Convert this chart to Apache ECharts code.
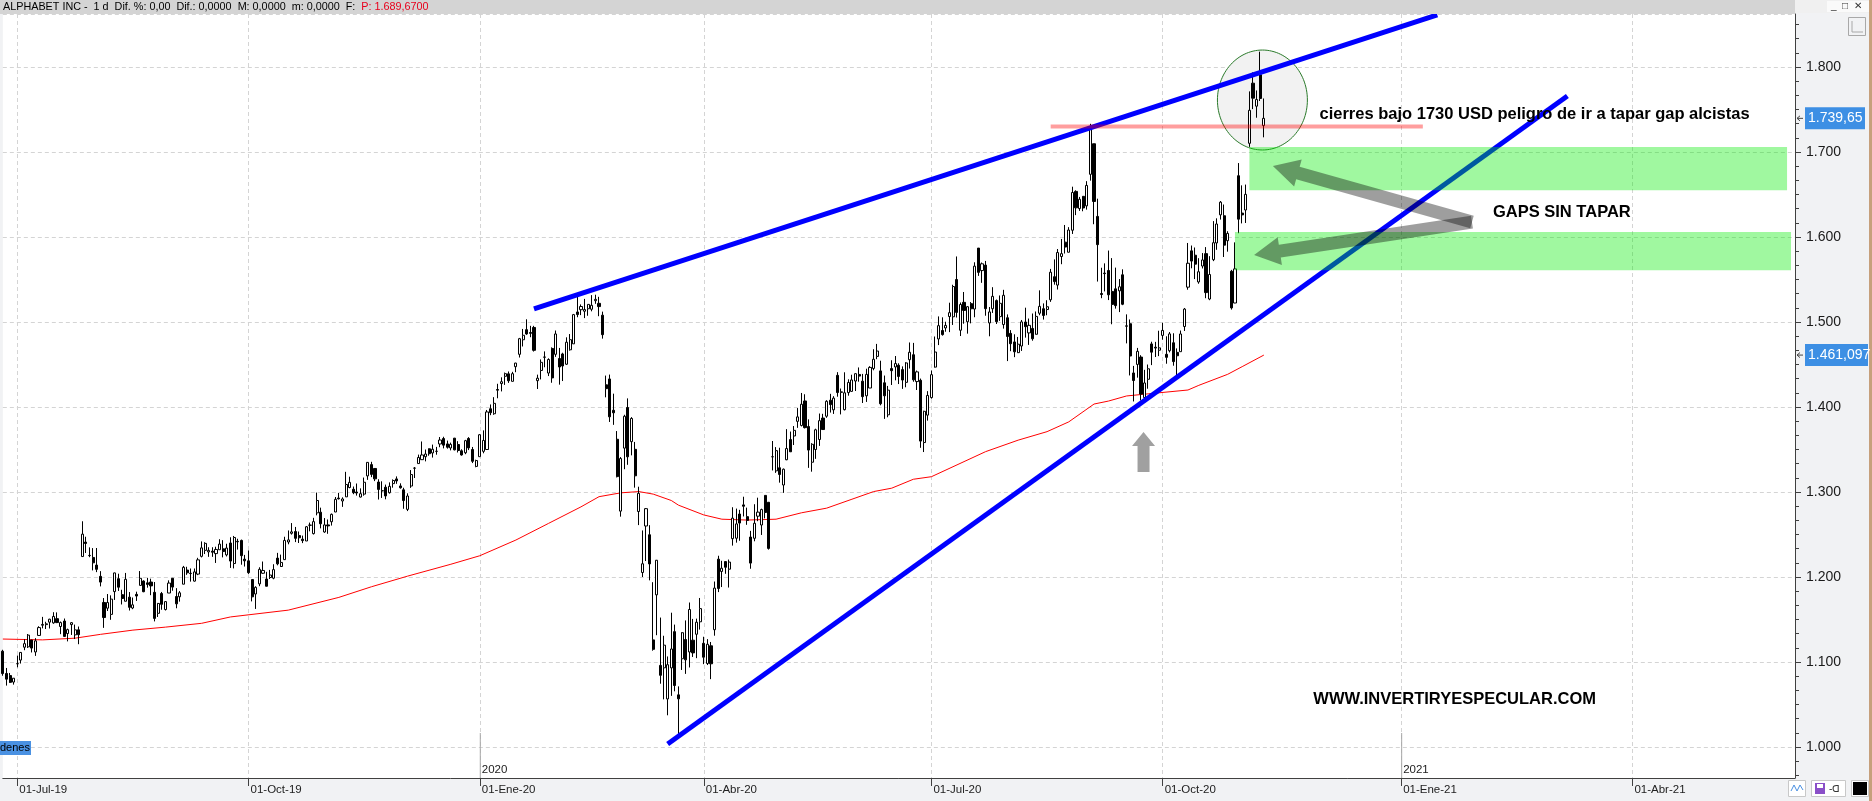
<!DOCTYPE html>
<html><head><meta charset="utf-8">
<script src="https://cdn.jsdelivr.net/npm/echarts@6/dist/echarts.min.js"></script>
<style>html,body{margin:0;padding:0;background:#f1f2f4;}#c{width:1872px;height:801px;}</style>
</head><body><div id="c"></div>
<script>
// ---------- DATA ----------
const firstDay = [2019, 5, 25];
const lastTradingDay = '2020-11-10';
const totalSlots = 497;
const holidays = ['2019-07-04','2019-09-02','2019-11-28','2019-12-25','2020-01-01','2020-01-20','2020-02-17','2020-04-10','2020-05-25','2020-07-03','2020-09-07'];
const monthNames = ['Ene','Feb','Mar','Abr','May','Jun','Jul','Ago','Sep','Oct','Nov','Dic'];

// Daily candles [open, high, low, close]
const ohlc = [
// Jun 2019
[1112.66,1114.35,1083.8,1086.35],[1086.5,1092.97,1072.24,1079.8],[1084,1087.1,1075.29,1076.01],[1076.39,1081,1073.37,1080.91],
// Jul 2019
[1098,1107.58,1093.7,1097.95],[1102.24,1111.77,1098.17,1111.25],[1117.41,1126.76,1113.86,1121.58],[1117.8,1132.88,1116.5,1131.59],
[1125.87,1125.98,1111.21,1116.35],[1111.8,1128.03,1107.17,1124.83],[1131.22,1142.05,1130.97,1140.48],[1143.25,1153.07,1139.58,1144.21],
[1143.99,1147.34,1138.78,1144.9],[1146.86,1150.82,1139.4,1150.34],[1146,1158.58,1145,1153.58],[1150.97,1158.36,1145.77,1146.35],
[1141.74,1147.6,1132.73,1146.33],[1148.19,1151.14,1129.62,1130.1],[1133.45,1139.25,1124.24,1138.07],[1144,1146.9,1131.8,1146.21],
[1131.9,1144,1126.99,1137.81],[1137.82,1141.7,1120.92,1132.12],[1224.04,1265.55,1224,1250.41],[1241.05,1247.37,1228.23,1239.41],
[1225.41,1234.87,1223.3,1225.14],[1223,1234,1207.76,1216.68],
// Aug 2019
[1214.03,1234.11,1205.72,1209.01],[1200.74,1206.9,1188.94,1193.99],[1170.04,1175.24,1140.14,1152.32],[1163.31,1179.96,1160,1169.95],
[1156,1178.44,1149.62,1173.99],[1182.83,1205.01,1173.02,1204.8],[1197.99,1203.88,1183.6,1188.01],[1179.21,1184.96,1167.67,1174.71],
[1171.46,1204.78,1171.46,1197.27],[1176.31,1182.3,1160.54,1164.29],[1163.5,1175.84,1162.11,1167.26],[1179.55,1182.72,1171.81,1177.6],
[1190.09,1206.99,1190.09,1198.45],[1195.25,1196.06,1182.11,1182.69],[1193.15,1199,1187.43,1191.25],[1194.07,1198.01,1178.58,1189.53],
[1181.99,1194.08,1147.75,1151.29],[1157.26,1169.47,1152.96,1168.89],[1180.53,1182.4,1161.45,1167.84],[1161.71,1171.5,1160.58,1171.02],
[1181.12,1196.06,1181.12,1192.85],[1198.5,1198.5,1183.8,1188.1],
// Sep 2019
[1177.03,1186.89,1163.2,1168.39],[1176.71,1183.48,1171,1181.41],[1191.53,1213.04,1191.53,1211.38],[1208.13,1212.02,1202.52,1204.93],
[1204,1210,1194.56,1204.41],[1195.15,1210,1194.58,1206],[1203.41,1222.56,1202.2,1220.17],[1224.3,1241.86,1223.02,1234.25],
[1231.35,1240.88,1227.01,1239.56],[1229.52,1235,1223.69,1231.3],[1230.4,1235,1223.69,1229.15],[1227.51,1235.61,1216.53,1232.41],
[1232.06,1244.44,1232.02,1238.71],[1233.12,1243.32,1223.08,1229.93],[1226,1239.09,1224.17,1234.03],[1240,1246.74,1210.68,1218.76],
[1215.82,1248.3,1210.09,1246.52],[1241.96,1245,1232.27,1241.39],[1243.01,1244.02,1214.45,1225.09],[1220.97,1226,1212.3,1219],
// Oct 2019
[1219,1231.23,1203.58,1205.1],[1196.98,1196.98,1171.29,1176.63],[1180,1189.06,1162.43,1187.83],[1191.89,1211.44,1189.17,1209],
[1204.4,1218.2,1203.75,1207.68],[1197.59,1206.08,1189.01,1189.13],[1199.35,1208.35,1197.63,1202.31],[1198.58,1215,1197.34,1208.67],
[1222.21,1228.39,1213.74,1215.45],[1212.34,1226.33,1211.76,1217.14],[1220.4,1247.33,1220.4,1243.01],[1241.17,1254.74,1238.45,1243.64],
[1251.4,1263.45,1249.87,1253.07],[1253.46,1258.89,1241.08,1245.49],[1248.7,1253.51,1239.99,1246.15],[1244.48,1248.7,1239.85,1242.8],
[1242.36,1259.89,1242.36,1259.13],[1260.9,1264,1253.71,1260.99],[1251.03,1269.6,1250.01,1265.13],[1275.45,1299.31,1272.54,1290],
[1276.23,1281.59,1257.21,1262.62],[1252.97,1269.36,1252,1261.29],[1261.28,1267.67,1250.84,1260.11],
// Nov 2019
[1265,1274.62,1260.5,1273.74],[1276.45,1294.13,1276.35,1291.37],[1292.89,1298.93,1291.23,1292.03],[1289.46,1293.73,1282.5,1291.8],
[1294.28,1323.74,1294.25,1308.86],[1305.28,1318,1304.37,1311.37],[1303.18,1306.43,1297.41,1299.19],[1300,1310,1295.77,1298.8],
[1294.07,1304.3,1293.51,1298],[1297.5,1317,1295.65,1311.46],[1318.94,1334.88,1314.28,1334.87],[1332.22,1335.53,1317.5,1320.7],
[1327.7,1327.7,1312.8,1315.46],[1311.74,1315,1291.15,1303.05],[1301.48,1312.59,1293,1301.35],[1305.62,1308.73,1291.41,1295.34],
[1299.18,1311.31,1298.13,1306.69],[1309.86,1314.8,1305.09,1313.55],[1315.42,1318.36,1309.63,1312.99],[1307.12,1310.21,1303.97,1304.96],
// Dec 2019
[1302.56,1305,1280.27,1289.92],[1279.57,1298.46,1277.55,1295.28],[1307.01,1325.8,1304.87,1320.54],[1328,1329.36,1316.44,1328.13],
[1333.44,1344,1333.44,1340.62],[1338.04,1359.45,1337.84,1343.56],[1341.5,1349.98,1336.04,1344.66],[1350.84,1351.2,1342.67,1345.02],
[1345.94,1355.78,1340.5,1350.27],[1347.95,1353.09,1343.87,1347.83],[1356.5,1364.68,1352.67,1361.17],[1362.89,1365,1351.32,1355.12],
[1356.6,1360.47,1351,1352.62],[1351.82,1358.1,1348.98,1356.04],[1363.35,1363.64,1349,1349.59],[1355.87,1359.8,1346.51,1348.84],
[1348.5,1350.26,1342.78,1343.56],[1346.17,1361.33,1344.47,1360.4],[1362.99,1364.53,1349.31,1351.89],[1350,1353,1334.02,1336.14],
[1330.11,1338,1329.09,1337.02],
// Jan 2020
[1341.55,1368.14,1341.55,1367.37],[1347.86,1372.5,1345.54,1360.66],[1350,1396.5,1350,1394.21],[1397.94,1402.99,1390.38,1393.34],
[1392.08,1411.58,1390.84,1404.32],[1420.57,1427.33,1410.27,1419.83],[1427.56,1434.93,1418.35,1429.73],[1436.13,1440.52,1426.02,1439.23],
[1439.01,1441.8,1428.37,1430.88],[1430.21,1441.4,1430.21,1439.2],[1447.44,1451.99,1440.92,1451.7],[1462,1481.3,1458.22,1480.39],
[1479.12,1491.85,1471.2,1484.4],[1491,1503.21,1484.93,1485.95],[1487.64,1495.52,1482.1,1486.65],[1493.59,1495.5,1465.25,1466.71],
[1431,1438.07,1421.2,1433.9],[1443,1456,1432.47,1452.56],[1458.8,1465.43,1446.74,1458.63],[1439.96,1457.28,1436.4,1455.84],
[1468.9,1470.13,1428.53,1434.23],
// Feb 2020
[1462,1490,1458.99,1485.94],[1457.07,1469.5,1426.3,1447.07],[1462.42,1463.84,1430.56,1448.23],[1450.33,1482,1449.57,1476.23],
[1467.3,1485.84,1466.35,1479.23],[1474.32,1509.5,1474.32,1508.68],[1511.81,1529.63,1505.64,1508.79],[1514.48,1520.7,1508.11,1518.27],
[1512.69,1527.18,1504.6,1514.66],[1515.6,1520.74,1507.34,1520.74],[1515,1531.63,1512.59,1519.67],[1525.07,1532.11,1521.4,1526.69],
[1522,1529.64,1506.82,1518.15],[1508.03,1512.22,1480.44,1485.11],[1426.11,1436.97,1411.39,1421.59],[1433,1438.14,1382.4,1388.45],
[1396.14,1415.7,1379,1393.18],[1362.06,1371.7,1317.17,1318.09],[1277.5,1341.14,1271,1339.33],
// Mar 2020
[1351.61,1390.87,1326.82,1389.11],[1399.42,1410.15,1332,1341.39],[1359.23,1388.09,1343.11,1386.52],[1350.2,1358.91,1305.1,1319.04],
[1277.06,1306.22,1261.05,1298.41],[1205.3,1254.76,1200,1215.56],[1260,1281.15,1218.77,1280.39],[1249.7,1260.96,1196.07,1215.41],
[1126,1193.87,1113.3,1114.91],[1179,1220,1131.5,1219.73],[1096,1152.27,1074.44,1084.33],[1093.11,1130.86,1056.01,1119.8],
[1056.51,1106.5,1037.28,1096.8],[1093.05,1157.97,1060.11,1115.29],[1135.72,1143.99,1065.49,1072.32],[1061.32,1071.32,1013.54,1056.62],
[1103.77,1135,1090.62,1134.46],[1126.47,1148.9,1086.01,1102.49],[1111.8,1169.97,1093.53,1161.75],[1125.67,1150.67,1105.91,1110.71],
[1132.64,1151,1104.5,1146.82],[1147.3,1175.31,1138.14,1162.81],
// Apr 2020
[1122,1129.69,1097.45,1105.62],[1098.26,1126.86,1096.4,1120.84],[1119.02,1123.54,1079.81,1097.88],[1138,1194.66,1130.94,1186.92],
[1221,1225,1182.23,1186.51],[1206.5,1219.07,1188.16,1210.28],[1218.13,1218.13,1203.75,1211.45],[1209.18,1220.51,1187.6,1217.56],
[1245.09,1282.07,1236.93,1269.23],[1245.61,1280.46,1240.4,1262.47],[1274.1,1279,1242.62,1263.47],[1284.85,1294.43,1271.23,1283.25],
[1271,1281.6,1261.37,1266.61],[1247,1254.27,1209.71,1216.34],[1245.54,1285.61,1242,1263.21],[1271.55,1293.31,1265.67,1276.31],
[1261.17,1280.4,1249.45,1279.31],[1296,1296.15,1269,1275.88],[1287.93,1288.05,1232.2,1233.67],[1341.46,1359.99,1325.34,1341.48],
[1324.88,1352.82,1322.49,1348.66],
// May 2020
[1328.5,1352.07,1311,1320.61],[1308.23,1327.66,1299,1326.8],[1337.92,1373.94,1337.46,1351.11],[1361.69,1371.12,1347.29,1347.3],
[1365.94,1377.6,1355.27,1372.56],[1383.13,1398.76,1375.48,1388.37],[1378.28,1416.53,1377.15,1403.26],[1407.12,1415,1374.77,1375.74],
[1377.05,1385.48,1328.4,1349.33],[1335.02,1357.42,1323.91,1356.13],[1350,1374.48,1339,1373.19],[1361.75,1392.33,1354.25,1383.94],
[1386.99,1392,1373.48,1373.48],[1389.16,1408,1387.25,1406.72],[1408,1415.49,1393.45,1402.8],[1396.71,1412.76,1391.83,1410.42],
[1437.27,1441,1412.13,1417.02],[1417.25,1421.74,1391.29,1417.84],[1396.86,1440.84,1396,1416.73],[1416.94,1432.57,1413.35,1428.92],
// Jun 2020
[1418.39,1437.96,1418,1431.82],[1430.55,1439.61,1418.83,1439.22],[1438.3,1446.55,1429.78,1436.38],[1430.4,1438.96,1404.73,1412.18],
[1413.17,1445.05,1406,1438.39],[1422.34,1447.99,1422.34,1446.61],[1445.36,1468,1443.21,1456.16],[1459.54,1474.26,1456.27,1465.85],
[1442.48,1454.47,1402,1403.84],[1428.49,1437,1386.02,1413.18],[1390.8,1424.8,1387.92,1419.85],[1445.22,1455.02,1425.9,1442.72],
[1447.16,1460,1431.38,1451.12],[1449.16,1451.41,1427.01,1435.96],[1444,1447.8,1421.35,1431.72],[1429,1452.75,1423.21,1451.86],
[1455.64,1475.94,1445.24,1464.41],[1461.51,1475.42,1429.75,1431.97],[1429.9,1442.9,1420,1441.33],[1431.39,1433.45,1351.99,1359.9],
[1358.18,1395.6,1347.01,1394.97],[1390.44,1418.65,1383.96,1413.61],
// Jul 2020
[1411.1,1443,1409.82,1438.04],[1446.94,1482.95,1446.42,1464.7],[1480.06,1506.59,1472.86,1495.7],[1490,1505.52,1484,1485.18],
[1493,1500.34,1488.56,1496],[1506.45,1522.72,1488.09,1510.99],[1506.15,1543.83,1496.54,1541.74],[1550,1577.13,1505.24,1511.34],
[1490.31,1522.95,1483.5,1520.58],[1523.13,1535.33,1498,1513.64],[1500.27,1518.69,1486.31,1518],[1521.62,1523.44,1498.42,1515.55],
[1515.26,1570.29,1505.62,1565.72],[1586.99,1586.99,1554.28,1558.42],[1560.5,1570,1546.1,1568.49],[1566.97,1571.87,1507.39,1515.68],
[1498.93,1517.64,1483.2,1511.87],[1515.6,1540.97,1510.67,1530.2],[1525.18,1526.48,1497.66,1500.34],[1506.32,1531.25,1501.33,1522.02],
[1497,1537.87,1492.22,1531.45],[1505.01,1508.95,1454.03,1482.96],
// Aug 2020
[1486.64,1490.47,1465.64,1474.45],[1476.57,1485.56,1458.65,1464.97],[1463.96,1482.41,1463.46,1473.91],[1471.75,1502.39,1466,1500.1],
[1500,1516.85,1481.64,1494.49],[1487.18,1504.08,1473.08,1496.1],[1492.44,1510,1478,1480.32],[1485.58,1512.39,1485.25,1506.62],
[1510.34,1537.25,1508.01,1518.45],[1515.66,1521.9,1502.88,1507.73],[1514.67,1525.61,1507.97,1517.98],[1526.18,1562.47,1523.71,1558.6],
[1553.31,1573.68,1543.95,1547.53],[1543.45,1585.87,1538.2,1581.75],[1577.03,1597.72,1568.01,1580.42],[1593.98,1614.17,1580.57,1588.2],
[1582.07,1611.62,1582.07,1608.22],[1608,1659.22,1603.6,1652.38],[1653.68,1655,1625.75,1634.33],[1633.49,1647.17,1630.75,1644.41],
[1647.89,1647.96,1630.31,1634.18],
// Sep 2020
[1636.63,1665.73,1632.22,1660.71],[1673.78,1733.18,1666.33,1728.28],[1709.71,1709.71,1615.06,1641.84],[1624.26,1645.11,1547.61,1591.04],
[1533.51,1563.86,1528.01,1532.39],[1557.53,1569,1536,1556.96],[1560.64,1584.08,1525.81,1532.02],[1536,1575.2,1497.36,1520.72],
[1539.01,1564,1515.74,1519.28],[1536.64,1550.53,1511.68,1541.44],[1555.54,1562,1519.82,1520.9],[1495.03,1508.99,1474.85,1495.53],
[1498.01,1503,1437.13,1459.99],[1440.06,1448.36,1406.55,1431.16],[1450.09,1469.52,1434.53,1465.46],[1458.78,1460.96,1407.7,1415.21],
[1411.03,1443.71,1409.85,1428.29],[1432.63,1449.97,1421.5,1444.96],[1474.21,1476.8,1449.3,1464.52],[1470.39,1476.66,1458.81,1469.33],
[1466.8,1489.75,1459.88,1469.6],
// Oct 2020
[1484.27,1499.04,1479.21,1490.09],[1462.03,1483.2,1450.92,1458.42],[1466.21,1488.21,1464.27,1486.02],[1475.58,1486.76,1448.59,1453.44],
[1464.29,1468.96,1436,1460.29],[1465.09,1490,1465.09,1485.93],[1494.7,1516.52,1489.45,1515.22],[1541,1593,1538,1569.15],
[1583.73,1590,1563.2,1571.68],[1578.59,1587.68,1550.53,1568.08],[1547.15,1575.1,1545.03,1559.13],[1565.85,1581.13,1563,1573.01],
[1580.46,1588.15,1528,1534.61],[1527.05,1577.5,1525.67,1555.93],[1573.33,1618.73,1571.63,1593.31],[1593.05,1621.99,1585,1615.33],
[1626.07,1642.36,1620.51,1641],[1625.01,1638.24,1576.5,1590.45],[1595.67,1606.84,1582.78,1604.26],[1559.74,1561.35,1514.62,1516.62],
[1522.36,1593.71,1522.24,1562.5],[1672.11,1687,1604.46,1621.01],
// Nov 2020
[1628.16,1660.77,1616.03,1626.03],[1631.78,1661.7,1616.52,1650.21],[1710.28,1771.36,1706.03,1749.13],[1781,1793.64,1750.51,1763.37],
[1753.95,1772.43,1740.35,1761.75],[1790.9,1818.06,1760.02,1763],[1731.09,1763,1717.3,1739.65]
];

// Red moving average, read at sample points [slotIndex, value]
const maPoints = [[0,1127],[11,1126],[20,1128],[27,1132.5],[36,1137.5],[45,1141],[55,1145.5],[63,1153],[79,1161],[93,1176],
[102,1188.5],[112,1201],[124,1215],[132,1225],[142,1243.5],[151,1263],[160,1282.5],[165,1294.5],[171,1299],[176,1300.5],
[180,1297.5],[185,1290],[187,1284.5],[194,1273],[199,1268],[206,1267],[214,1268],[221,1275.5],[228,1281],[235,1291.5],
[241,1300.5],[246,1304.5],[252,1315],[257,1318],[272,1347.5],[281,1361],[289,1371],[295,1382.5],[302,1403.5],[306,1407],
[311,1413],[317,1415.5],[328,1420],[331,1425.5],[339,1438.5],[343,1447.5],[349,1461.097]];

const upperTrend = [[147,1515.4],[397,1861.5]];
const lowerTrend = [[184,1003.6],[433,1765.9]];
const level1730 = [[290,1730],[393,1730]];
const gapBoxes = [[341,494.9,1561,1606],[345,493.8,1655,1706]];
const gapArrows = [[[351.5,1683.5],[406.6,1617.6]],[[346.3,1578.8],[406.6,1617.6]]];
const upArrow = [[315.7,1370.6],[315.7,1323.5]];
const circleCentre = [348.6,1761.2], circleRadii = [12.45,58.8];
const notes = [[364.4,1744,'cierres bajo 1730 USD peligro de ir a tapar gap alcistas'],[412.4,1628.8,'GAPS SIN TAPAR'],[362.7,1055.8,'WWW.INVERTIRYESPECULAR.COM']];
const priceTags = [[1739.65,'1.739,65'],[1461.097,'1.461,097']];
const yRange = [963.5, 1862.4];

// ---------- CALENDAR ----------
const cats = [];
(function(){
  let t = Date.UTC(firstDay[0], firstDay[1], firstDay[2]);
  const lastT = Date.parse(lastTradingDay + 'T00:00:00Z');
  while (cats.length < totalSlots) {
    const d = new Date(t); const wd = d.getUTCDay(); const s = d.toISOString().slice(0,10);
    if (wd !== 0 && wd !== 6 && !(t <= lastT && holidays.indexOf(s) >= 0)) cats.push(s);
    t += 86400000;
  }
})();
const qLabel = {}; const yearStarts = [];
cats.forEach((s,i)=>{ if(!i) return; const m=+s.slice(5,7)-1, pm=+cats[i-1].slice(5,7)-1;
  if (m!==pm && m%3===0){ qLabel[i]='01-'+monthNames[m]+'-'+s.slice(2,4); if(m===0) yearStarts.push([i, s.slice(0,4)]); } });
const isQ = (i)=> qLabel[i] !== undefined;
const candleData = ohlc.map(r=>[r[0], r[3], r[2], r[1]]);
const minorVals = []; for (let k=0;k<=54;k++){ const v=966.6667+k*100/6; if (Math.abs(v/100-Math.round(v/100))>0.01 && v<yRange[1]) minorVals.push(v); }
const fmtK = v => { const s=String(Math.round(v)); return s.length>3 ? s.slice(0,-3)+'.'+s.slice(-3) : s; };

// ---------- CHART ----------
const chart = echarts.init(document.getElementById('c'));
const FONT = '"Liberation Sans", Arial, sans-serif';
chart.setOption({
  animation:false, backgroundColor:'#f1f2f4', textStyle:{fontFamily:FONT},
  grid:{left:2.84, right:77, top:14, bottom:23, show:true, backgroundColor:'#ffffff', borderWidth:0},
  xAxis:{type:'category', data:cats, boundaryGap:false,
    axisLine:{lineStyle:{color:'#404040',width:1}},
    axisTick:{interval:(i)=>isQ(i), length:8, lineStyle:{color:'#404040'}},
    axisLabel:{interval:(i)=>isQ(i), formatter:(v,i)=>qLabel[i]||'', align:'left', margin:6, fontSize:11.5, color:'#222', padding:[0,0,0,2]},
    splitLine:{show:true, interval:(i)=>isQ(i), lineStyle:{color:'#d4d4d4', type:[4,3]}}},
  yAxis:[{type:'value', position:'right', min:yRange[0], max:yRange[1], splitNumber:9,
    axisLine:{show:true, lineStyle:{color:'#404040'}},
    axisTick:{show:true, length:6, lineStyle:{color:'#404040'}},
    axisLabel:{showMinLabel:false, showMaxLabel:false, margin:11, fontSize:14, color:'#1a1a1a', formatter:fmtK},
    splitLine:{show:true, lineStyle:{color:'#d4d4d4', type:[4,3]}}},
   {type:'value', position:'right', min:yRange[0], max:yRange[1], axisLine:{show:false}, axisLabel:{show:false}, splitLine:{show:false},
    axisTick:{show:true, length:4, customValues:minorVals, lineStyle:{color:'#404040'}}}],
  series:[
    {type:'candlestick', data:candleData, barWidth:2.6, z:2,
     itemStyle:{color:'#ffffff', color0:'#000000', borderColor:'#000000', borderColor0:'#000000', borderWidth:1}},
    {type:'line', data:maPoints, symbol:'none', z:2, lineStyle:{color:'#ff0000', width:1}},
    {type:'line', data:upperTrend, symbol:'none', z:3, lineStyle:{color:'#0000ff', width:5}},
    {type:'line', data:lowerTrend, symbol:'none', z:3, lineStyle:{color:'#0000ff', width:5}},
    {type:'line', data:level1730, symbol:'none', z:4, lineStyle:{color:'rgba(255,0,0,0.38)', width:4}}
  ]
});

// ---------- ANNOTATIONS (positioned from data coordinates) ----------
function px(i, v){
  const i0=Math.floor(i), f=i-i0;
  const a=chart.convertToPixel({xAxisIndex:0,yAxisIndex:0},[i0,v]);
  if(!f) return a;
  const b=chart.convertToPixel({xAxisIndex:0,yAxisIndex:0},[i0+1,v]);
  return [a[0]+(b[0]-a[0])*f, a[1]];
}
function arrowPoly(T, S, hw, hh, hl){
  const dx=T[0]-S[0], dy=T[1]-S[1], L=Math.hypot(dx,dy), ux=dx/L, uy=dy/L, nx=-uy, ny=ux;
  const B=[T[0]-ux*hl, T[1]-uy*hl];
  return [[S[0]+nx*hw,S[1]+ny*hw],[B[0]+nx*hw,B[1]+ny*hw],[B[0]+nx*hh,B[1]+ny*hh],T,[B[0]-nx*hh,B[1]-ny*hh],[B[0]-nx*hw,B[1]-ny*hw],[S[0]-nx*hw,S[1]-ny*hw]];
}
const g = [];
(function(){
  const c=px(circleCentre[0],circleCentre[1]);
  const rx=px(circleCentre[0]+circleRadii[0],circleCentre[1])[0]-c[0];
  const ry=c[1]-px(circleCentre[0],circleCentre[1]+circleRadii[1])[1];
  const pts=[]; for(let k=0;k<120;k++){const a=k/120*Math.PI*2; pts.push([c[0]+rx*Math.cos(a), c[1]+ry*Math.sin(a)]);}
  g.push({type:'polygon', shape:{points:pts}, style:{fill:'#f2f2f2', stroke:'#2a7a2a', lineWidth:1}, z:1, silent:true});
})();
gapBoxes.forEach(b=>{ const p1=px(b[0],b[3]), p2=px(b[1],b[2]);
  g.push({type:'rect', shape:{x:p1[0], y:p1[1], width:p2[0]-p1[0], height:p2[1]-p1[1]}, style:{fill:'rgba(0,236,0,0.373)'}, z:5, silent:true}); });
gapArrows.forEach(a=>{ const T=px(a[0][0],a[0][1]), S=px(a[1][0],a[1][1]);
  g.push({type:'polygon', shape:{points:arrowPoly(T,S,6.5,14,26)}, style:{fill:'rgba(0,0,0,0.38)'}, z:6, silent:true}); });
(function(){ const T=px(upArrow[0][0],upArrow[0][1]), S=px(upArrow[1][0],upArrow[1][1]);
  g.push({type:'polygon', shape:{points:arrowPoly(T,S,6,11.5,14)}, style:{fill:'#a0a0a0'}, z:6, silent:true}); })();
notes.forEach(n=>{ const p=px(n[0],n[1]);
  g.push({type:'text', x:p[0], y:p[1], style:{text:n[2], fill:'#000', font:'bold 16.5px '+FONT, align:'left', verticalAlign:'middle'}, z:7, silent:true}); });
yearStarts.forEach(y=>{ const p=px(y[0], yRange[0]);
  g.push({type:'line', shape:{x1:p[0]+0.5, y1:733, x2:p[0]+0.5, y2:p[1]}, style:{stroke:'#a8a8a8', lineWidth:1}, z:3, silent:true});
  g.push({type:'text', x:p[0]+2, y:770, style:{text:y[1], fill:'#222', font:'11.5px '+FONT, verticalAlign:'middle'}, z:3, silent:true}); });
g.push({type:'rect', shape:{x:0,y:0,width:1795,height:14}, style:{fill:'#d4d4d4'}, z:10, silent:true});
g.push({type:'text', x:3, y:7, style:{text:'{a|ALPHABET INC -  1 d  Dif. %: 0,00  Dif.: 0,0000  M: 0,0000  m: 0,0000  F:  }{r|P: 1.689,6700}',
  font:'10.8px '+FONT, verticalAlign:'middle', rich:{a:{fill:'#000', font:'10.8px '+FONT}, r:{fill:'#e8001c', font:'10.8px '+FONT}}}, z:11, silent:true});
g.push({type:'rect', shape:{x:1795,y:0,width:77,height:13}, style:{fill:'#f0f0f0'}, z:10, silent:true});
g.push({type:'rect', shape:{x:1827,y:1,width:42,height:11}, style:{fill:'#fafafa'}, z:10, silent:true});
g.push({type:'text', x:1831, y:6, style:{text:'_  □  ✕', fill:'#333', font:'10px '+FONT, verticalAlign:'middle'}, z:11, silent:true});
g.push({type:'rect', shape:{x:1848.5,y:17.5,width:17,height:18}, style:{fill:'none', stroke:'#a8a8a8', lineWidth:1}, z:10, silent:true});
g.push({type:'polyline', shape:{points:[[1852,21],[1852,32],[1863,32]]}, style:{stroke:'#a8a8a8', lineWidth:1, fill:'none'}, z:10, silent:true});
g.push({type:'rect', shape:{x:1869,y:0,width:3,height:801}, style:{fill:'#c6a07c'}, z:12, silent:true});
g.push({type:'rect', shape:{x:1788.5,y:780.5,width:17,height:16}, style:{fill:'#fff', stroke:'#c8c8c8'}, z:10, silent:true});
g.push({type:'polyline', shape:{points:[[1791,791],[1794,785],[1797,791],[1800,785],[1803,790]]}, style:{stroke:'#4a90e2', lineWidth:1, fill:'none'}, z:11, silent:true});
g.push({type:'rect', shape:{x:1811.5,y:780.5,width:34,height:16}, style:{fill:'#fff', stroke:'#c8c8c8'}, z:10, silent:true});
g.push({type:'rect', shape:{x:1815,y:783,width:10,height:11}, style:{fill:'#8a4fc8'}, z:11, silent:true});
g.push({type:'rect', shape:{x:1817,y:784,width:6,height:4}, style:{fill:'#fff'}, z:11, silent:true});
g.push({type:'text', x:1829, y:789, style:{text:'-ᗡ', fill:'#333', font:'10px '+FONT, verticalAlign:'middle'}, z:11, silent:true});
g.push({type:'rect', shape:{x:1851.5,y:780.5,width:17,height:16}, style:{fill:'#fff', stroke:'#c8c8c8'}, z:10, silent:true});
g.push({type:'rect', shape:{x:1853,y:782,width:14,height:13}, style:{fill:'#000'}, z:11, silent:true});
g.push({type:'rect', shape:{x:0,y:741,width:31,height:14}, style:{fill:'#4a91e2'}, z:10, silent:true});
g.push({type:'text', x:0, y:748, style:{text:'denes', fill:'#000', font:'11px '+FONT, verticalAlign:'middle'}, z:11, silent:true});
priceTags.forEach(t=>{ const y=px(0,t[0])[1]; const w=t[1].length>8?63:60;
  g.push({type:'rect', shape:{x:1805,y:y-11,width:w,height:22}, style:{fill:'#3d8fe4'}, z:11, silent:true});
  g.push({type:'text', x:1808, y:y, style:{text:t[1], fill:'#fff', font:'14px '+FONT, verticalAlign:'middle'}, z:12, silent:true});
  g.push({type:'polyline', shape:{points:[[1800,y-2.5],[1797,y],[1800,y+2.5]]}, style:{stroke:'#444', fill:'none', lineWidth:1}, z:11, silent:true});
  g.push({type:'line', shape:{x1:1797,y1:y,x2:1803,y2:y}, style:{stroke:'#444', lineWidth:1}, z:11, silent:true});
});
chart.setOption({graphic:{elements:g}});
</script>
</body></html>
